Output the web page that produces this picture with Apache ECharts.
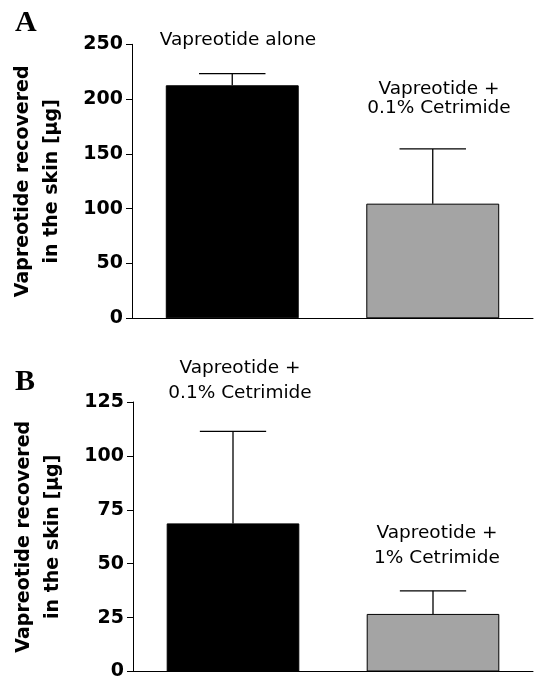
<!DOCTYPE html>
<html>
<head>
<meta charset="utf-8">
<script src="https://cdn.jsdelivr.net/npm/echarts@6/dist/echarts.min.js"></script>
<style>
html,body{margin:0;padding:0;background:#fff;}
#chart{width:535px;height:681px;}
</style>
</head>
<body>
<div id="chart"></div>
<script>
// Panel A
const catsA = ['Vapreotide alone', 'Vapreotide + 0.1% Cetrimide'];
const meanA = [212.6, 104.6];
const errA = [10.6, 49.9];
const ticksA = { min: 0, max: 250, interval: 50 };
// Panel B
const catsB = ['Vapreotide + 0.1% Cetrimide', 'Vapreotide + 1% Cetrimide'];
const meanB = [68.7, 26.7];
const errB = [42.7, 10.7];
const ticksB = { min: 0, max: 125, interval: 25 };
const yTitle = 'Vapreotide recovered\nin the skin [µg]';

const barColors = ['#000000', '#a4a4a4'];

function yAxisFor(t, gi) {
  return {
    type: 'value', gridIndex: gi, min: t.min, max: t.max, interval: t.interval,
    name: yTitle, nameLocation: 'middle', nameGap: 65,
    nameTextStyle: { fontFamily: 'DejaVu Sans', fontWeight: 'bold', fontSize: 19, lineHeight: 29, color: '#000' },
    axisLine: { show: true, lineStyle: { color: '#000', width: 1 } },
    axisTick: { show: true, length: 6, lineStyle: { color: '#000', width: 1 } },
    axisLabel: { margin: 9, fontFamily: 'DejaVu Sans', fontWeight: 'bold', fontSize: 19, color: '#000' },
    splitLine: { show: false }
  };
}
function xAxisFor(cats, gi) {
  return {
    type: 'category', gridIndex: gi, data: cats,
    axisLine: { show: true, lineStyle: { color: '#000', width: 1 } },
    axisTick: { show: false }, axisLabel: { show: false }
  };
}
function barSeries(means, gi) {
  return {
    type: 'bar', xAxisIndex: gi, yAxisIndex: gi, barWidth: '66.3%',
    data: means.map((v, i) => ({
      value: v,
      itemStyle: { color: barColors[i], borderColor: '#000', borderWidth: 1 }
    })),
    z: 2
  };
}
function errSeries(means, errs, gi) {
  return {
    type: 'custom', xAxisIndex: gi, yAxisIndex: gi, z: 1,
    data: means.map((m, i) => [i, m, m + errs[i]]),
    renderItem: function (params, api) {
      const base = api.coord([api.value(0), api.value(1)]);
      const top = api.coord([api.value(0), api.value(2)]);
      const half = api.size([1, 0])[0] * 0.663 / 4;
      const st = { stroke: '#000', lineWidth: 1.3 };
      return {
        type: 'group', children: [
          { type: 'line', shape: { x1: base[0], y1: base[1], x2: top[0], y2: top[1] }, style: st },
          { type: 'line', shape: { x1: top[0] - half, y1: top[1], x2: top[0] + half, y2: top[1] }, style: st }
        ]
      };
    }
  };
}

const lblStyle = { fontFamily: 'DejaVu Sans', fontSize: 18.5, fill: '#000', align: 'center', verticalAlign: 'middle' };

const option = {
  backgroundColor: '#fff',
  animation: false,
  grid: [
    { left: 132, top: 44.3, right: 2, height: 274 },
    { left: 133, top: 402, right: 2, height: 273.7 }
  ],
  xAxis: [xAxisFor(catsA, 0), xAxisFor(catsB, 1)],
  yAxis: [yAxisFor(ticksA, 0), yAxisFor(ticksB, 1)],
  series: [
    barSeries(meanA, 0), errSeries(meanA, errA, 0),
    barSeries(meanB, 1), errSeries(meanB, errB, 1)
  ],
  graphic: [
    { type: 'text', style: { text: 'A', x: 15, y: 23, fontFamily: 'Liberation Serif', fontWeight: 'bold', fontSize: 30, fill: '#000', verticalAlign: 'middle' } },
    { type: 'text', style: { text: 'B', x: 15, y: 382, fontFamily: 'Liberation Serif', fontWeight: 'bold', fontSize: 30, fill: '#000', verticalAlign: 'middle' } },
    { type: 'text', style: Object.assign({ text: 'Vapreotide alone', x: 238, y: 40 }, lblStyle) },
    { type: 'text', style: Object.assign({ text: 'Vapreotide +\n0.1% Cetrimide', x: 439, y: 99, lineHeight: 19 }, lblStyle) },
    { type: 'text', style: Object.assign({ text: 'Vapreotide +\n0.1% Cetrimide', x: 240, y: 380.5, lineHeight: 25 }, lblStyle) },
    { type: 'text', style: Object.assign({ text: 'Vapreotide +\n1% Cetrimide', x: 437, y: 545.5, lineHeight: 25 }, lblStyle) }
  ]
};
const chart = echarts.init(document.getElementById('chart'), null, { renderer: 'canvas' });
chart.setOption(option);
</script>
</body>
</html>
